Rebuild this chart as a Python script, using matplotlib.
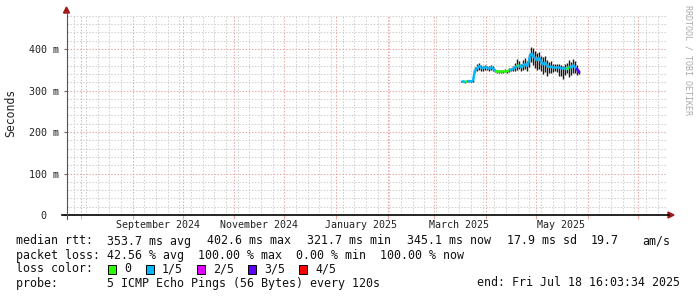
import matplotlib
matplotlib.use('Agg')
import matplotlib.pyplot as plt
import matplotlib.dates as mdates
import pandas as pd
from matplotlib.lines import Line2D
from matplotlib.patches import Polygon, Rectangle

plt.rcParams['font.family'] = ['DejaVu Sans Mono', 'DejaVu Sans']

W, H = 697, 297

# ---------------- data ----------------
graph_start = '2024-07-23 16:03:34'
graph_end = '2025-07-18 16:03:34'
data_start = '2025-03-17 02:00'
data_end = '2025-05-26 20:00'

median_ms = [322, 322, 321, 322, 323, 322, 323, 350, 352, 360,
             355, 353, 357, 355, 352, 356, 354, 347, 346, 345,
             346, 345, 347, 346, 349, 350, 352, 356, 358, 362,
             355, 360, 365, 358, 372, 390, 385, 378, 372, 380,
             370, 362, 368, 360, 356, 358, 355, 356, 355, 356,
             354, 352, 355, 350, 358, 354, 362, 356, 352, 345]
smoke_lo_ms = [320, 320, 319, 320, 320, 320, 320, 345, 347, 350,
               348, 347, 350, 349, 347, 350, 348, 344, 343, 343,
               343, 342, 344, 343, 345, 346, 347, 348, 350, 352,
               346, 350, 352, 348, 356, 368, 362, 355, 350, 352,
               348, 340, 345, 336, 342, 342, 345, 346, 344, 336,
               335, 328, 338, 342, 332, 338, 342, 342, 338, 340]
smoke_hi_ms = [324, 324, 324, 325, 325, 325, 326, 356, 365, 366,
               362, 358, 362, 360, 358, 361, 359, 352, 350, 349,
               350, 349, 351, 350, 354, 355, 358, 366, 377, 372,
               364, 374, 378, 370, 388, 405, 402, 396, 390, 394,
               384, 380, 382, 374, 368, 372, 364, 364, 364, 364,
               362, 360, 364, 366, 374, 368, 376, 370, 362, 350]
loss_level = [1, 1, 0, 1, 1, 1, 1, 1, 1, 1,
              1, 1, 1, 1, 1, 1, 1, 0, 0, 0,
              0, 0, 0, 0, 1, 1, 1, 1, 0, 1,
              1, 1, 1, 1, 1, 1, 1, 1, 1, 1,
              1, 1, 1, 1, 1, 1, 1, 1, 1, 1,
              1, 1, 1, 0, 1, 1, 1, 1, 1, 3]

loss_colors = ['#26ff00', '#00b8ff', '#dd00ff', '#5e00ff', '#ff0000']
loss_labels = ['0', '1/5', '2/5', '3/5', '4/5']

y_ticks = [0, 100, 200, 300, 400]
y_tick_labels = ['0  ', '100 m', '200 m', '300 m', '400 m']
month_labels = ['September 2024', 'November 2024', 'January 2025', 'March 2025', 'May 2025']
month_label_dates = ['2024-09-16', '2024-11-16', '2025-01-16', '2025-03-16', '2025-05-16']

rtt_parts = ['median rtt:', '353.7 ms avg', '402.6 ms max', '321.7 ms min',
             '345.1 ms now', '17.9 ms sd', '19.7', 'am/s']
loss_line = 'packet loss: 42.56 % avg  100.00 % max  0.00 % min  100.00 % now'
probe_line = 'probe:       5 ICMP Echo Pings (56 Bytes) every 120s'
end_text = 'end: Fri Jul 18 16:03:34 2025'

# ---------------- figure ----------------
fig = plt.figure(figsize=(W / 100, H / 100), dpi=100)
fig.patch.set_facecolor('white')

PL, PR, PT, PB = 67, 667, 15, 215
ax = fig.add_axes([PL / W, 1 - PB / H, (PR - PL) / W, (PB - PT) / H])
ax.set_facecolor('white')

t0 = pd.Timestamp(graph_start)
t1 = pd.Timestamp(graph_end)
ax.set_xlim(t0, t1)
ax.set_ylim(0, 482)

dates = pd.date_range(data_start, data_end, periods=len(median_ms))

# smoke
ax.vlines(dates, smoke_lo_ms, smoke_hi_ms, color='#1a1a1a', lw=1.0, zorder=3)
# median, coloured by loss
for i in range(len(dates) - 1):
    ax.plot(dates[i:i + 2], median_ms[i:i + 2], color=loss_colors[loss_level[i]],
            lw=1.8, solid_capstyle='butt', zorder=4)
ax.plot(dates[-2:], median_ms[-2:], color=loss_colors[loss_level[-1]], lw=1.8, zorder=5)

# grid
ax.xaxis.set_major_locator(mdates.MonthLocator())
ax.xaxis.set_minor_locator(mdates.WeekdayLocator(byweekday=mdates.SU))
ax.set_yticks(y_ticks)
ax.set_yticks(range(0, 482, 20), minor=True)
ax.set_axisbelow(True)
dots = (0, (1.4, 1.6))
ax.grid(which='minor', color='#d0d0d0', lw=0.75, ls=dots)
ax.grid(which='major', color='#eaa8a8', lw=0.75, ls=dots)

ax.set_xticklabels([])
ax.set_yticklabels(y_tick_labels, fontsize=7.2, color='#222222')
ax.tick_params(axis='y', which='major', length=2.5, width=0.8, color='#666666', pad=3)
ax.tick_params(axis='y', which='minor', length=0)
ax.tick_params(axis='x', which='major', length=3, width=0.8, color='#eaa8a8', pad=2)
ax.tick_params(axis='x', which='minor', length=0)
for s in ax.spines.values():
    s.set_visible(False)

for lab, d in zip(month_labels, month_label_dates):
    ax.text(pd.Timestamp(d), -0.05, lab, transform=ax.get_xaxis_transform(),
            ha='center', va='center', fontsize=7.2, color='#222222')


def P(x, y):
    return (x / W, 1 - y / H)


# axes lines and arrows
fig.add_artist(Line2D([P(62, 0)[0], P(669, 0)[0]], [P(0, 215)[1]] * 2, color='black',
                      lw=1.2, transform=fig.transFigure))
fig.add_artist(Line2D([P(66.5, 0)[0]] * 2, [P(0, 219)[1], P(0, 12)[1]], color='#555555',
                      lw=0.8, transform=fig.transFigure))
fig.add_artist(Polygon([P(668, 212), P(674, 215), P(668, 218)], closed=True,
                       color='#a01818', transform=fig.transFigure))
fig.add_artist(Polygon([P(63.5, 13), P(66.5, 7), P(69.5, 13)], closed=True,
                       color='#a01818', transform=fig.transFigure))

# y label
fig.text(*P(11, 113), 'Seconds', rotation=90, ha='center', va='center',
         fontsize=8.3, color='#222222')

# watermark
fig.text(*P(688, 5), 'RRDTOOL / TOBI OETIKER', rotation=270, ha='center', va='top',
         fontsize=6, color='#aaaaaa')

# legend
FS = 8.4
row_y = [241, 255, 269, 283]
rtt_x = [16, 107, 207, 307, 407, 507, 591, 642]
for x, s in zip(rtt_x, rtt_parts):
    fig.text(*P(x, row_y[0]), s, ha='left', va='center', fontsize=FS, color='#111111')
fig.text(*P(16, row_y[1]), loss_line, ha='left', va='center', fontsize=FS, color='#111111')
fig.text(*P(16, row_y[2]), 'loss color:', ha='left', va='center', fontsize=FS, color='#111111')
box_x = [108, 146, 197, 248, 299]
for bx, c, lab in zip(box_x, loss_colors, loss_labels):
    x0, y0 = P(bx, row_y[2] + 4.5)
    fig.add_artist(Rectangle((x0, y0), 8 / W, 9 / H, facecolor=c, edgecolor='black',
                             lw=0.7, transform=fig.transFigure))
    fig.text(*P(bx + 16, row_y[2]), lab, ha='left', va='center', fontsize=FS, color='#111111')

fig.text(*P(16, row_y[3]), probe_line, ha='left', va='center', fontsize=FS, color='#111111')
fig.text(*P(680, row_y[3]), end_text, ha='right', va='center', fontsize=FS, color='#111111')

fig.savefig('out.png', dpi=100, facecolor='white')
